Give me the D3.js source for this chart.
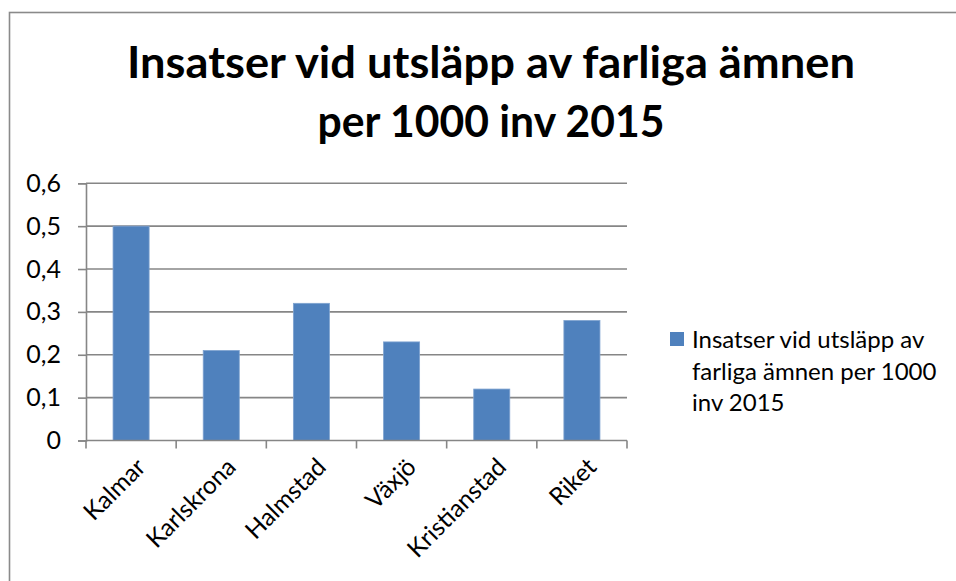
<!DOCTYPE html>
<html>
<head>
<meta charset="utf-8">
<script src="https://cdn.jsdelivr.net/npm/d3@7"></script>
<style>
  html, body { margin: 0; padding: 0; background: #fff; }
  svg { display: block; }
  text { font-family: Lato, "Open Sans", sans-serif; }
</style>
</head>
<body>
<svg id="chart" width="956" height="581"></svg>
<script>
const categories = ["Kalmar", "Karlskrona", "Halmstad", "Växjö", "Kristianstad", "Riket"];
const values = [0.5, 0.21, 0.32, 0.23, 0.12, 0.28];
const yTicks = [0, 0.1, 0.2, 0.3, 0.4, 0.5, 0.6];
const titleLines = ["Insatser vid utsläpp av farliga ämnen", "per 1000 inv 2015"];
const legendLines = ["Insatser vid utsläpp av", "farliga ämnen per 1000", "inv 2015"];

const svg = d3.select("#chart");
const plot = { left: 86, right: 627, top: 183.3, bottom: 440.5 };
const barColor = "#4F81BD";
const gridColor = "#868686";

// outer chart border (left and top visible)
svg.append("rect")
  .attr("x", 9.5).attr("y", 12.5)
  .attr("width", 1000).attr("height", 1000)
  .attr("fill", "none").attr("stroke", "#8a8a8a").attr("stroke-width", 1.6);

// title
const title = svg.append("g");
const titleWidths = [728, 347];
titleLines.forEach((t, i) => {
  title.append("text")
    .attr("x", 491).attr("y", 78 + i * 59)
    .attr("text-anchor", "middle")
    .attr("font-weight", "bold")
    .attr("font-size", 43)
    .attr("fill", "#000")
    .attr("textLength", titleWidths[i])
    .attr("lengthAdjust", "spacingAndGlyphs")
    .text(t);
});

const x = d3.scaleBand().domain(categories)
  .range([plot.left, plot.right]).paddingInner(0.6).paddingOuter(0.3);
const y = d3.scaleLinear().domain([0, 0.6]).range([plot.bottom, plot.top]);

// gridlines + y axis
const yAxis = d3.axisLeft(y).tickValues(yTicks)
  .tickSize(8)
  .tickPadding(17)
  .tickFormat(d => d3.format(".1f")(d).replace(".", ",").replace(/^0,0$/, "0"));
const yg = svg.append("g").attr("transform", `translate(${plot.left},0)`).call(yAxis);
yg.select(".domain").attr("stroke", gridColor).attr("stroke-width", 1.6);
yg.selectAll(".tick line").attr("stroke", gridColor).attr("stroke-width", 1.6);
yg.selectAll(".tick text").attr("font-size", 25).attr("fill", "#000")
  .attr("font-family", "Lato, 'Open Sans', sans-serif");

svg.append("g").selectAll("line").data(yTicks.filter(d => d > 0)).join("line")
  .attr("x1", plot.left).attr("x2", plot.right)
  .attr("y1", d => y(d)).attr("y2", d => y(d))
  .attr("stroke", gridColor).attr("stroke-width", 1.6);

// bars
svg.append("g").selectAll("rect").data(values).join("rect")
  .attr("x", (d, i) => x(categories[i]))
  .attr("y", d => y(d))
  .attr("width", x.bandwidth())
  .attr("height", d => y(0) - y(d))
  .attr("fill", barColor)
  .attr("stroke", "#7FA3D0").attr("stroke-width", 0.8);

// x axis line and ticks at band boundaries
svg.append("line")
  .attr("x1", plot.left).attr("x2", plot.right)
  .attr("y1", plot.bottom).attr("y2", plot.bottom)
  .attr("stroke", gridColor).attr("stroke-width", 1.6);
const step = x.step();
const boundaries = d3.range(categories.length + 1).map(i => plot.left + i * step);
svg.append("g").selectAll("line").data(boundaries).join("line")
  .attr("x1", d => d).attr("x2", d => d)
  .attr("y1", plot.bottom).attr("y2", plot.bottom + 8)
  .attr("stroke", gridColor).attr("stroke-width", 1.6);

// x labels rotated
svg.append("g").selectAll("text").data(categories).join("text")
  .attr("transform", d => `translate(${x(d) + x.bandwidth() / 2 + 10},${plot.bottom + 22}) rotate(-45)`)
  .attr("text-anchor", "end")
  .attr("dy", "0.35em")
  .attr("font-size", 24.5)
  .attr("fill", "#000")
  .text(d => d);

// legend
const lg = svg.append("g");
lg.append("rect").attr("x", 670).attr("y", 332).attr("width", 14).attr("height", 14)
  .attr("fill", barColor);
legendLines.forEach((t, i) => {
  lg.append("text")
    .attr("x", 692).attr("y", 348 + i * 31.5)
    .attr("font-size", 24)
    .attr("fill", "#000")
    .text(t);
});
</script>
</body>
</html>
